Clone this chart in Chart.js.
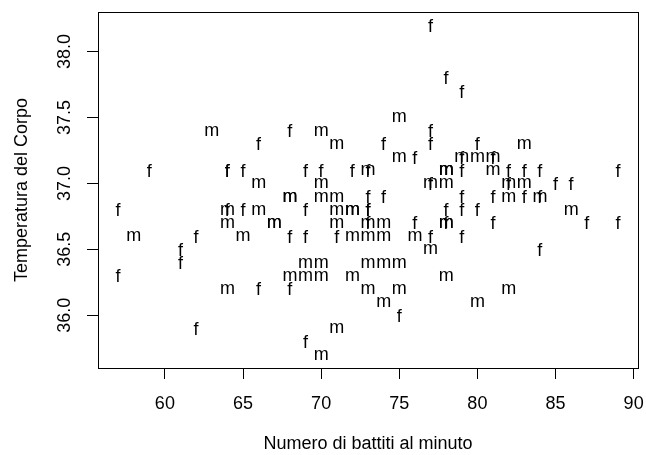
<!DOCTYPE html>
<html>
<head>
<meta charset="utf-8">
<script src="https://cdn.jsdelivr.net/npm/chart.js@4"></script>
<style>
  html, body { margin: 0; padding: 0; background: #fff; }
</style>
</head>
<body>
<canvas id="chart" width="646" height="455"></canvas>
<script>
/* Data: heart rate (bpm) and body temperature (C), by sex */
const maleBpm = [70, 71, 74, 80, 73, 75, 82, 64, 69, 70, 68, 72, 78, 70, 75, 74, 69, 73, 77,
  58, 73, 65, 74, 76, 72, 78, 71, 74, 67, 64, 78, 73, 67, 66, 64, 71, 72, 86, 72,
  68, 70, 82, 84, 68, 71, 77, 78, 83, 66, 70, 82, 73, 78, 78, 81, 78, 80, 75, 79, 81,
  71, 83, 63, 70, 75];
const maleTemp = [35.7, 35.9, 36.1, 36.1, 36.2, 36.2, 36.2, 36.2, 36.3, 36.3, 36.3, 36.3, 36.3,
  36.4, 36.4, 36.4, 36.4, 36.4, 36.5, 36.6, 36.6, 36.6, 36.6, 36.6, 36.6,
  36.7, 36.7, 36.7, 36.7, 36.7, 36.7, 36.7, 36.7, 36.8, 36.8, 36.8, 36.8, 36.8, 36.8,
  36.9, 36.9, 36.9, 36.9, 36.9, 36.9, 37.0, 37.0, 37.0, 37.0, 37.0, 37.0,
  37.1, 37.1, 37.1, 37.1, 37.1, 37.2, 37.2, 37.2, 37.2, 37.3, 37.3, 37.4, 37.4, 37.5];

const femaleBpm = [69, 62, 75, 66, 68, 57, 61, 84, 61, 77, 62, 71, 68, 69, 79,
  76, 87, 78, 73, 81, 89, 73, 64, 65, 73, 69, 57, 79, 78, 80, 79, 81, 73, 74, 84, 83,
  82, 85, 86, 77, 72, 79, 59, 64, 65, 82, 64, 70, 83, 89, 69, 73, 84,
  76, 79, 81, 80, 74, 77, 66, 68, 77, 79, 78, 77];
const femaleTemp = [35.8, 35.9, 36.0, 36.2, 36.2, 36.3, 36.4, 36.5, 36.5,
  36.6, 36.6, 36.6, 36.6, 36.6, 36.6, 36.7, 36.7, 36.7, 36.7, 36.7, 36.7,
  36.8, 36.8, 36.8, 36.8, 36.8, 36.8, 36.8, 36.8, 36.8, 36.9, 36.9, 36.9, 36.9, 36.9, 36.9,
  37.0, 37.0, 37.0, 37.0, 37.1, 37.1, 37.1, 37.1, 37.1, 37.1, 37.1, 37.1, 37.1, 37.1, 37.1, 37.1, 37.1,
  37.2, 37.2, 37.2, 37.3, 37.3, 37.3, 37.3, 37.4, 37.4, 37.7, 37.8, 38.2];

const xTicks = [60, 65, 70, 75, 80, 85, 90];
const xTickLabels = ["60", "65", "70", "75", "80", "85", "90"];
const yTicks = [36.0, 36.5, 37.0, 37.5, 38.0];
const yTickLabels = ["36.0", "36.5", "37.0", "37.5", "38.0"];
const xTitle = "Numero di battiti al minuto";
const yTitle = "Temperatura del Corpo";

const FONT = '18px "Liberation Sans", Arial, sans-serif';

function toPoints(xs, ys) {
  return xs.map((x, i) => ({ x: x, y: ys[i] }));
}

/* draws each point as its letter (m / f), ink centred like R's text() */
const letterPoints = {
  id: "letterPoints",
  afterDatasetsDraw(chart) {
    const ctx = chart.ctx;
    ctx.save();
    ctx.font = FONT;
    ctx.fillStyle = "#000";
    ctx.textAlign = "center";
    ctx.textBaseline = "alphabetic";
    chart.data.datasets.forEach((ds, i) => {
      const asc = ctx.measureText(ds.letter).actualBoundingBoxAscent;
      chart.getDatasetMeta(i).data.forEach(pt => {
        ctx.fillText(ds.letter, pt.x, pt.y + asc / 2);
      });
    });
    ctx.restore();
  }
};

/* box + R style tick labels and axis titles */
const rAxes = {
  id: "rAxes",
  afterDraw(chart) {
    const ctx = chart.ctx;
    const a = chart.chartArea;
    const xs = chart.scales.x, ys = chart.scales.y;
    ctx.save();
    ctx.strokeStyle = "#000";
    ctx.lineWidth = 1;
    ctx.strokeRect(Math.round(a.left) + 0.5, Math.round(a.top) + 0.5,
      Math.round(a.right - a.left), Math.round(a.bottom - a.top));

    ctx.font = FONT;
    ctx.fillStyle = "#000";
    ctx.textAlign = "center";
    ctx.textBaseline = "alphabetic";
    xTicks.forEach((v, i) => {
      ctx.fillText(xTickLabels[i], xs.getPixelForValue(v), a.bottom + 41);
    });
    ctx.fillText(xTitle, (a.left + a.right) / 2, a.bottom + 81);

    yTicks.forEach((v, i) => {
      ctx.save();
      ctx.translate(a.left - 28, ys.getPixelForValue(v));
      ctx.rotate(-Math.PI / 2);
      ctx.fillText(yTickLabels[i], 0, 0);
      ctx.restore();
    });
    ctx.save();
    ctx.translate(a.left - 71, (a.top + a.bottom) / 2);
    ctx.rotate(-Math.PI / 2);
    ctx.fillText(yTitle, 0, 0);
    ctx.restore();
    ctx.restore();
  }
};

new Chart(document.getElementById("chart"), {
  type: "scatter",
  data: {
    datasets: [
      { label: "m", letter: "m", data: toPoints(maleBpm, maleTemp), pointRadius: 0, pointHoverRadius: 0 },
      { label: "f", letter: "f", data: toPoints(femaleBpm, femaleTemp), pointRadius: 0, pointHoverRadius: 0 }
    ]
  },
  options: {
    responsive: false,
    animation: false,
    events: [],
    layout: { padding: { top: 12, right: 8, left: 0, bottom: 0 } },
    plugins: { legend: { display: false }, tooltip: { enabled: false } },
    scales: {
      x: {
        type: "linear",
        min: 55.72,
        max: 90.28,
        afterBuildTicks: s => { s.ticks = xTicks.map(v => ({ value: v })); },
        afterFit: s => { s.height = 87; },
        ticks: { display: false },
        border: { display: false },
        grid: { drawOnChartArea: false, drawTicks: true, tickLength: 11, color: "#000", lineWidth: 1 }
      },
      y: {
        type: "linear",
        min: 35.6,
        max: 38.3,
        afterBuildTicks: s => { s.ticks = yTicks.map(v => ({ value: v })); },
        afterFit: s => { s.width = 98; },
        ticks: { display: false },
        border: { display: false },
        grid: { drawOnChartArea: false, drawTicks: true, tickLength: 11, color: "#000", lineWidth: 1 }
      }
    }
  },
  plugins: [letterPoints, rAxes]
});
</script>
</body>
</html>
